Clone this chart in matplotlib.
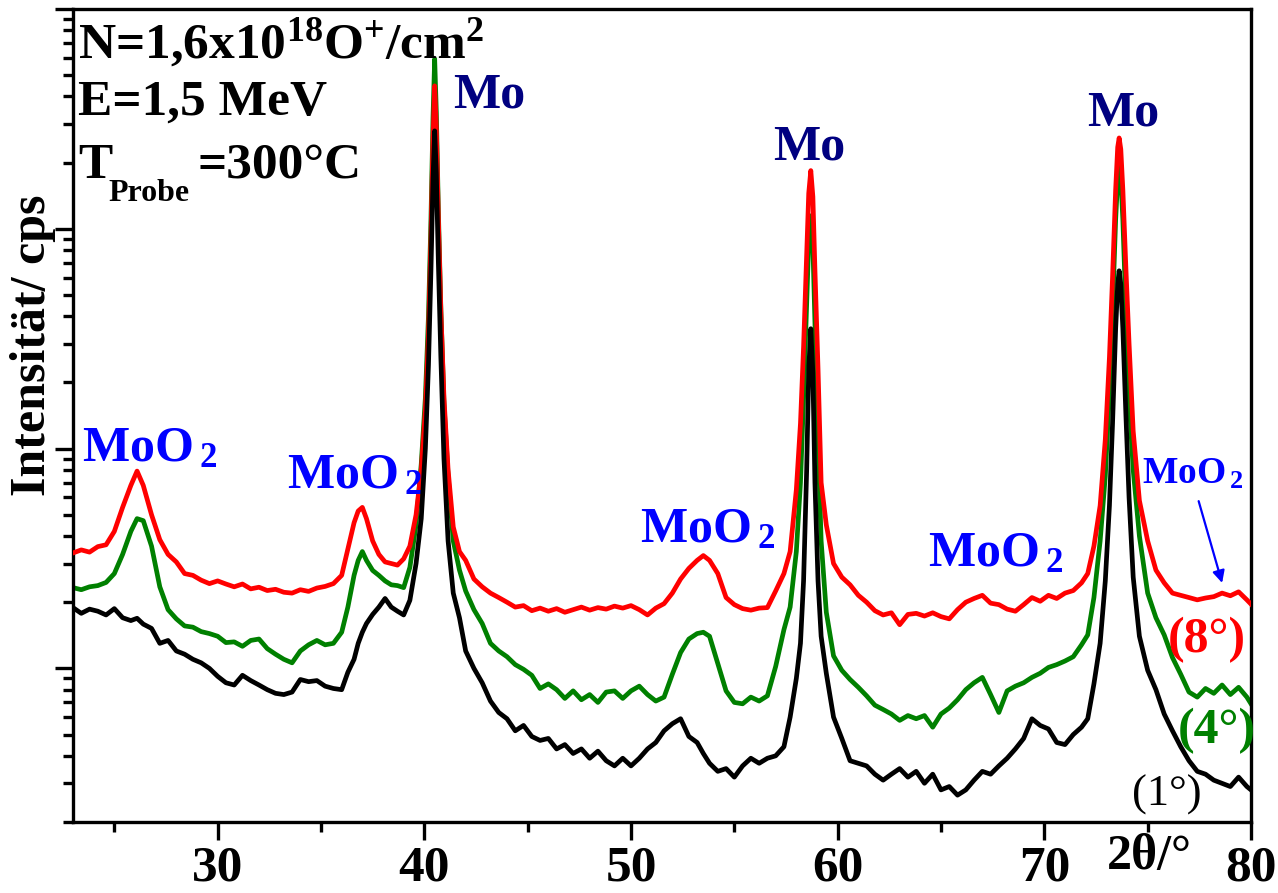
import matplotlib
matplotlib.use("Agg")
import matplotlib.pyplot as plt
from matplotlib.ticker import LogLocator, NullFormatter, MultipleLocator

plt.rcParams['font.family'] = ['Liberation Serif', 'DejaVu Serif']
plt.rcParams['mathtext.default'] = 'regular'

# =================
# DATA
# =================
two_theta = [
    23.0, 23.4, 23.8, 24.2, 24.6, 25.0, 25.4, 25.8, 26.1, 26.4,
    26.8, 27.2, 27.6, 28.0, 28.4, 28.8, 29.2, 29.6, 30.0, 30.4,
    30.8, 31.2, 31.6, 32.0, 32.4, 32.8, 33.2, 33.6, 34.0, 34.4,
    34.8, 35.2, 35.6, 36.0, 36.3, 36.6, 36.8, 37.0, 37.2, 37.5,
    37.8, 38.1, 38.4, 38.7, 39.0, 39.3, 39.6, 39.85, 40.05, 40.2,
    40.32, 40.42, 40.5, 40.58, 40.68, 40.8, 40.95, 41.15, 41.4, 41.7,
    42.0, 42.4, 42.8, 43.2, 43.6, 44.0, 44.4, 44.8, 45.2, 45.6,
    46.0, 46.4, 46.8, 47.2, 47.6, 48.0, 48.4, 48.8, 49.2, 49.6,
    50.0, 50.4, 50.8, 51.2, 51.6, 52.0, 52.4, 52.8, 53.2, 53.5,
    53.8, 54.2, 54.6, 55.0, 55.4, 55.8, 56.2, 56.6, 57.0, 57.4,
    57.7, 58.0, 58.2, 58.35, 58.5, 58.6, 58.7, 58.8, 58.9, 59.05,
    59.2, 59.45, 59.8, 60.2, 60.6, 61.0, 61.4, 61.8, 62.2, 62.6,
    63.0, 63.4, 63.8, 64.2, 64.6, 65.0, 65.4, 65.8, 66.2, 66.6,
    67.0, 67.4, 67.8, 68.2, 68.6, 69.0, 69.4, 69.8, 70.2, 70.6,
    71.0, 71.4, 71.8, 72.1, 72.4, 72.7, 72.95, 73.15, 73.3, 73.45,
    73.55, 73.62, 73.7, 73.8, 73.95, 74.1, 74.3, 74.6, 75.0, 75.4,
    75.8, 76.2, 76.6, 77.0, 77.4, 77.8, 78.2, 78.6, 79.0, 79.4,
    79.8, 80.0,
]

# (8°)
int_8 = [
    33.5, 34.6, 33.8, 35.8, 36.5, 42, 54, 68, 79, 68,
    50, 38.5, 33, 30.5, 27, 26.5, 25.2, 24.3, 25, 24.2,
    23.5, 24.2, 23.0, 23.4, 22.6, 22.9, 22.2, 22.0, 22.8, 22.4,
    23.2, 23.6, 24.3, 26.5, 35, 46, 52, 54, 48, 38,
    33, 30.5, 30, 29.5, 31.5, 36, 50, 80, 150, 330,
    900, 2600, 4470, 2900, 1100, 420, 170, 80, 44, 34,
    31, 25.5, 23.5, 22, 21, 20, 19, 19.3, 18.3, 18.8,
    18.2, 18.7, 18.0, 18.5, 19.0, 18.4, 18.9, 18.6, 19.2, 18.8,
    19.3, 18.5, 17.5, 18.8, 19.7, 22, 25.5, 28.5, 31, 32.6,
    31, 27, 21, 19.5, 18.7, 18.4, 18.8, 18.9, 22.5, 27,
    34, 65, 130, 290, 750, 1450, 1840, 1400, 650, 230,
    70, 45, 30, 26, 24, 21.5, 20, 18.3, 17.5, 17.9,
    15.8, 17.6, 17.8, 17.3, 17.9, 17.2, 16.8, 18.5, 20, 20.8,
    21.5, 19.8, 19.5, 18.6, 18.2, 19.5, 21, 20.2, 21.5, 20.8,
    22.0, 22.6, 24.5, 27, 36, 55, 110, 260, 600, 1500,
    2350, 2590, 2300, 1500, 650, 300, 120, 58, 38, 28,
    24.5, 22, 21.5, 21, 20.5, 20.9, 21.2, 22, 21.4, 22.3,
    20.5, 19.6,
]

# (4°)
int_4 = [
    23.3, 22.8, 23.5, 23.8, 24.6, 27, 33, 42, 48, 47,
    36, 23.5, 18.5, 16.8, 15.6, 15.4, 14.7, 14.4, 14.0, 13.1,
    13.2, 12.6, 13.4, 13.6, 12.3, 11.6, 11.0, 10.6, 12.0, 12.8,
    13.4, 12.8, 13.0, 14.6, 19, 26.5, 31, 34, 31, 27.9,
    26.5, 25, 24, 23.8, 23.3, 28.8, 45, 85, 170, 400,
    1100, 3200, 5930, 3400, 1200, 430, 160, 75, 38, 28,
    22.5, 18.5, 16, 13, 12, 11.3, 10.4, 9.9, 9.3, 8.1,
    8.5, 8.0, 7.3, 7.9, 7.2, 7.6, 7.0, 7.8, 7.9, 7.3,
    7.9, 8.3, 7.6, 7.1, 7.4, 9.4, 11.8, 13.6, 14.4, 14.6,
    14.0, 10.5, 7.9, 7.0, 6.9, 7.4, 7.1, 7.5, 10.2, 15.0,
    19, 34, 70, 170, 450, 880, 1146, 850, 380, 110,
    38, 18, 11.4, 9.8, 8.9, 8.2, 7.5, 6.8, 6.5, 6.2,
    5.8, 6.1, 5.9, 6.1, 5.4, 6.2, 6.6, 7.2, 8.0, 8.6,
    9.1, 7.6, 6.3, 7.9, 8.3, 8.6, 9.1, 9.5, 10.1, 10.4,
    10.8, 11.3, 12.8, 14.2, 21, 38, 75, 180, 430, 1100,
    1700, 1933, 1700, 1100, 420, 170, 80, 40, 22, 17,
    14.2, 11.2, 9.4, 7.8, 7.4, 8.1, 7.7, 8.4, 7.6, 8.2,
    7.4, 6.9,
]

# (1°)
int_1 = [
    18.9, 17.8, 18.6, 18.2, 17.5, 18.7, 17.0, 16.5, 16.9, 15.9,
    15.2, 13.0, 13.4, 12.0, 11.6, 11.0, 10.6, 10.0, 9.2, 8.6,
    8.4, 9.3, 8.8, 8.4, 8.0, 7.7, 7.6, 7.8, 8.9, 8.7,
    8.8, 8.3, 8.1, 8.0, 9.6, 11.0, 13.0, 14.6, 16.0, 17.6,
    19, 20.8, 19.0, 18.2, 17.5, 20.4, 30, 48, 100, 240,
    650, 1700, 2790, 1800, 700, 260, 90, 38, 22, 17.0,
    12.0, 10.0, 8.6, 7.1, 6.3, 5.9, 5.2, 5.5, 4.9, 4.7,
    4.8, 4.3, 4.5, 4.1, 4.3, 3.9, 4.2, 3.8, 3.6, 3.9,
    3.6, 3.9, 4.3, 4.6, 5.2, 5.6, 5.9, 4.9, 4.6, 4.1,
    3.7, 3.4, 3.5, 3.2, 3.6, 3.9, 3.7, 3.9, 4.0, 4.4,
    6.0, 9, 13, 25, 80, 230, 351, 220, 70, 25,
    14, 9.5, 6.0, 4.8, 3.8, 3.7, 3.6, 3.3, 3.1, 3.3,
    3.5, 3.2, 3.4, 3.0, 3.3, 2.8, 2.9, 2.65, 2.8, 3.1,
    3.4, 3.3, 3.6, 3.9, 4.3, 4.8, 5.9, 5.5, 5.3, 4.6,
    4.5, 5.0, 5.4, 5.9, 8.5, 13, 25, 55, 130, 350,
    560, 644, 560, 350, 140, 60, 26, 14, 9.8, 8.0,
    6.2, 5.2, 4.4, 3.8, 3.4, 3.3, 3.1, 3.0, 2.9, 3.2,
    2.9, 2.8,
]

# peak labels
mo_labels = [("Mo", 41.39, 3548), ("Mo", 56.87, 2061), ("Mo", 72.06, 2938)]
moo2_labels = [(23.44, 87.3, 36), (33.35, 65.8, 36), (50.43, 37.4, 36),
               (64.37, 29.1, 36), (74.72, 69.3, 27)]


# =================
# FIGURE
# =================
W, H = 1278, 893
fig = plt.figure(figsize=(W / 100, H / 100), dpi=100)
ax = fig.add_axes([73 / W, 71 / H, (1251 - 73) / W, (822 - 9) / H])

ax.plot(two_theta, int_4, color="#008000", lw=3.4, zorder=2)
ax.plot(two_theta, int_8, color="#ff0000", lw=3.4, zorder=3)
ax.plot(two_theta, int_1, color="black", lw=3.4, zorder=4)

ax.set_yscale("log")
ax.set_xlim(23, 80)
ax.set_ylim(2, 10000)

ax.xaxis.set_major_locator(MultipleLocator(10))
ax.xaxis.set_minor_locator(MultipleLocator(5))
ax.yaxis.set_major_locator(LogLocator(base=10))
ax.yaxis.set_minor_locator(LogLocator(base=10, subs=range(2, 10)))
ax.yaxis.set_major_formatter(NullFormatter())
ax.yaxis.set_minor_formatter(NullFormatter())

ax.tick_params(axis="both", which="major", direction="out", length=13, width=2.4)
ax.tick_params(axis="both", which="minor", direction="out", length=7, width=2.4)
ax.tick_params(axis="x", which="major", labelsize=37, pad=4)
for lab in ax.get_xticklabels():
    lab.set_fontweight("bold")

for s in ax.spines.values():
    s.set_linewidth(2.4)

# axis titles
ax.text(75.1, -0.058, "2θ/°", transform=ax.get_xaxis_transform(),
        ha="center", va="baseline", fontsize=36, fontweight="bold")
fig.text(33 / W, 1 - 345 / H, "Intensität/ cps", rotation=90, ha="center",
         va="center", fontsize=36, fontweight="bold")

# =================
# ANNOTATIONS
# =================
for txt, x, y in mo_labels:
    ax.text(x, y, txt, color="#000080", fontsize=36, fontweight="bold",
            ha="left", va="baseline")

for x, y, fs in moo2_labels:
    ax.text(x, y, "MoO$_{\\,2}$", color="#0000ff", fontsize=fs, fontweight="bold",
            ha="left", va="baseline")

ax.annotate("", xy=(78.64, 23.8), xytext=(77.43, 59.3),
            arrowprops=dict(arrowstyle="-|>", color="#0000ff", lw=1.6,
                            mutation_scale=18))

ax.text(75.98, 11.8, "(8°)", color="#ff0000", fontsize=36, fontweight="bold",
        ha="left", va="baseline")
ax.text(76.47, 4.56, "(4°)", color="#008000", fontsize=36, fontweight="bold",
        ha="left", va="baseline")
ax.text(74.24, 2.38, "(1°)", color="black", fontsize=32,
        ha="left", va="baseline")

# parameter block top left
fig.text(78 / W, 1 - 58 / H, "N=1,6x10$^{18}$O$^{+}$/cm$^{2}$", fontsize=37,
         fontweight="bold", ha="left", va="baseline")
fig.text(78 / W, 1 - 115 / H, "E=1,5 MeV", fontsize=37,
         fontweight="bold", ha="left", va="baseline")
fig.text(78 / W, 1 - 178 / H, "T", fontsize=37,
         fontweight="bold", ha="left", va="baseline")
fig.text(108 / W, 1 - 201 / H, "Probe", fontsize=23,
         fontweight="bold", ha="left", va="baseline")
fig.text(198 / W, 1 - 178 / H, "=300°C", fontsize=37,
         fontweight="bold", ha="left", va="baseline")

fig.savefig("out.png", dpi=100)
